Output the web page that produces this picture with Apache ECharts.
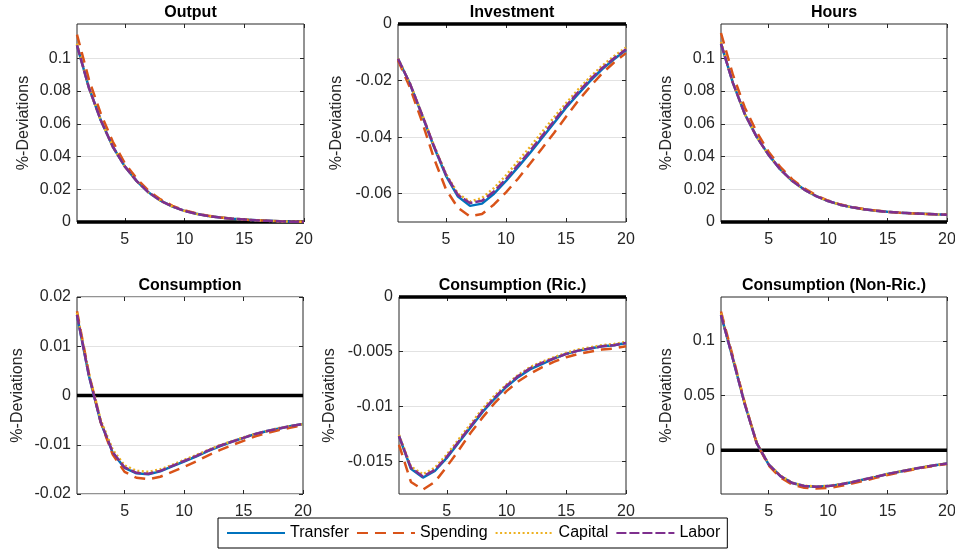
<!DOCTYPE html>
<html><head><meta charset="utf-8">
<script src="https://cdn.jsdelivr.net/npm/echarts@6/dist/echarts.min.js"></script>
<style>html,body{margin:0;padding:0;background:#fff}#c{width:955px;height:554px}</style>
</head><body><div id="c"></div>
<script>
const periods = [1,2,3,4,5,6,7,8,9,10,11,12,13,14,15,16,17,18,19,20];
const seriesNames = ['Transfer','Spending','Capital','Labor'];
const panelTitles = ['Output','Investment','Hours','Consumption','Consumption (Ric.)','Consumption (Non-Ric.)'];
const yAxisName = '%-Deviations';
const xTickValues = [5,10,15,20];
const outputTicks = [0,0.02,0.04,0.06,0.08,0.1];
const investmentTicks = [-0.06,-0.04,-0.02,0];
const hoursTicks = [0,0.02,0.04,0.06,0.08,0.1];
const consumptionTicks = [-0.02,-0.01,0,0.01,0.02];
const ricTicks = [-0.015,-0.01,-0.005,0];
const nonRicTicks = [0,0.05,0.1];
const zeroLevel = 0;

const outputTransfer = [0.108,0.082,0.062,0.046,0.034,0.025,0.018,0.013,0.0094,0.0068,0.0050,0.0036,0.0027,0.0020,0.0015,0.0010,0.0007,0.0004,0.0002,0.0001];
const outputSpending = [0.1145,0.087,0.066,0.049,0.036,0.0265,0.019,0.0138,0.0099,0.0071,0.0052,0.0038,0.0028,0.0021,0.0015,0.0010,0.0007,0.0004,0.0002,0.0001];
const outputCapital  = [0.109,0.082,0.062,0.046,0.034,0.025,0.018,0.013,0.0094,0.0068,0.0050,0.0036,0.0027,0.0020,0.0015,0.0010,0.0007,0.0004,0.0002,0.0001];
const outputLabor    = [0.108,0.082,0.062,0.046,0.034,0.025,0.018,0.013,0.0094,0.0068,0.0050,0.0036,0.0027,0.0020,0.0015,0.0010,0.0007,0.0004,0.0002,0.0001];

const investmentTransfer = [-0.0123,-0.0212,-0.0322,-0.0435,-0.0537,-0.0610,-0.0643,-0.0635,-0.0600,-0.0555,-0.0506,-0.0456,-0.0403,-0.0350,-0.0296,-0.0248,-0.0202,-0.0160,-0.0125,-0.0092];
const investmentSpending = [-0.0128,-0.0225,-0.0345,-0.0475,-0.0585,-0.0650,-0.0680,-0.0672,-0.0638,-0.0595,-0.0547,-0.0494,-0.0440,-0.0385,-0.0328,-0.0272,-0.0222,-0.0175,-0.0136,-0.0103];
const investmentCapital  = [-0.0122,-0.0210,-0.0318,-0.0430,-0.0530,-0.0600,-0.0628,-0.0615,-0.0580,-0.0535,-0.0485,-0.0435,-0.0382,-0.0330,-0.0280,-0.0232,-0.0188,-0.0148,-0.0114,-0.0083];
const investmentLabor    = [-0.0123,-0.0211,-0.0320,-0.0432,-0.0533,-0.0605,-0.0633,-0.0625,-0.0592,-0.0548,-0.0499,-0.0449,-0.0396,-0.0343,-0.0290,-0.0242,-0.0197,-0.0156,-0.0121,-0.0089];

const hoursTransfer = [0.109,0.085,0.066,0.052,0.041,0.032,0.025,0.0198,0.0158,0.0128,0.0106,0.0090,0.0078,0.0069,0.0062,0.0057,0.0053,0.0050,0.0047,0.0045];
const hoursSpending = [0.1155,0.090,0.070,0.055,0.043,0.0335,0.026,0.0205,0.0163,0.0131,0.0108,0.0091,0.0079,0.0070,0.0063,0.0057,0.0053,0.0050,0.0047,0.0045];
const hoursCapital  = [0.110,0.085,0.066,0.052,0.041,0.032,0.025,0.0198,0.0158,0.0128,0.0106,0.0090,0.0078,0.0069,0.0062,0.0057,0.0053,0.0050,0.0047,0.0045];
const hoursLabor    = [0.109,0.085,0.066,0.052,0.041,0.032,0.025,0.0198,0.0158,0.0128,0.0106,0.0090,0.0078,0.0069,0.0062,0.0057,0.0053,0.0050,0.0047,0.0045];

const consumptionTransfer = [0.0163,0.0040,-0.0055,-0.0116,-0.0147,-0.0158,-0.0160,-0.0154,-0.0144,-0.0134,-0.0124,-0.0113,-0.0103,-0.0094,-0.0086,-0.0078,-0.0072,-0.0067,-0.0062,-0.0058];
const consumptionSpending = [0.0171,0.0045,-0.0055,-0.0120,-0.0155,-0.0167,-0.0170,-0.0165,-0.0155,-0.0145,-0.0134,-0.0122,-0.0111,-0.0101,-0.0092,-0.0083,-0.0076,-0.0070,-0.0065,-0.0060];
const consumptionCapital  = [0.0168,0.0045,-0.0050,-0.0110,-0.0142,-0.0153,-0.0155,-0.0150,-0.0141,-0.0131,-0.0121,-0.0111,-0.0101,-0.0093,-0.0085,-0.0078,-0.0072,-0.0066,-0.0062,-0.0058];
const consumptionLabor    = [0.0164,0.0041,-0.0054,-0.0115,-0.0146,-0.0157,-0.0159,-0.0153,-0.0143,-0.0133,-0.0123,-0.0112,-0.0102,-0.0094,-0.0086,-0.0078,-0.0072,-0.0067,-0.0062,-0.0058];

const ricTransfer = [-0.0127,-0.0157,-0.0165,-0.0159,-0.0147,-0.0133,-0.0119,-0.0105,-0.0093,-0.0082,-0.0073,-0.0066,-0.0061,-0.0056,-0.0052,-0.0049,-0.0047,-0.0045,-0.0044,-0.0042];
const ricSpending = [-0.0135,-0.0169,-0.0176,-0.0169,-0.0155,-0.0140,-0.0124,-0.0110,-0.0097,-0.0086,-0.0077,-0.0070,-0.0064,-0.0059,-0.0055,-0.0052,-0.0050,-0.0048,-0.0047,-0.0045];
const ricCapital  = [-0.0126,-0.0155,-0.0162,-0.0156,-0.0144,-0.0130,-0.0116,-0.0102,-0.0090,-0.0080,-0.0071,-0.0064,-0.0059,-0.0055,-0.0051,-0.0048,-0.0046,-0.0044,-0.0043,-0.0041];
const ricLabor    = [-0.0127,-0.0156,-0.0164,-0.0158,-0.0146,-0.0132,-0.0118,-0.0104,-0.0092,-0.0081,-0.0072,-0.0065,-0.0060,-0.0056,-0.0052,-0.0049,-0.0047,-0.0045,-0.0044,-0.0042];

const nonRicTransfer = [0.1237,0.0835,0.0420,0.0065,-0.0130,-0.0237,-0.0300,-0.0327,-0.0333,-0.0328,-0.0313,-0.0292,-0.0268,-0.0244,-0.0218,-0.0196,-0.0175,-0.0155,-0.0138,-0.0122];
const nonRicSpending = [0.1267,0.0855,0.0430,0.0065,-0.0140,-0.0250,-0.0315,-0.0343,-0.0350,-0.0345,-0.0328,-0.0305,-0.0280,-0.0253,-0.0226,-0.0202,-0.0180,-0.0159,-0.0141,-0.0125];
const nonRicCapital  = [0.1250,0.0845,0.0430,0.0070,-0.0125,-0.0233,-0.0297,-0.0325,-0.0331,-0.0326,-0.0311,-0.0290,-0.0266,-0.0242,-0.0217,-0.0195,-0.0174,-0.0154,-0.0137,-0.0121];
const nonRicLabor    = [0.1237,0.0835,0.0420,0.0065,-0.0130,-0.0237,-0.0300,-0.0327,-0.0333,-0.0328,-0.0313,-0.0292,-0.0268,-0.0244,-0.0218,-0.0196,-0.0175,-0.0155,-0.0138,-0.0122];

const FONT = '"Liberation Sans", Arial, Helvetica, sans-serif';
const AX = '#262626';
const colors = ['#0072BD','#D95319','#EDB120','#7E2F8E'];
const dashes = ['solid',[11,7],[2,2.5],[10,3]];

const panels = [
  {data:[outputTransfer,outputSpending,outputCapital,outputLabor], yMin:0, yMax:0.121, ticks:outputTicks, nameGap:45},
  {data:[investmentTransfer,investmentSpending,investmentCapital,investmentLabor], yMin:-0.07, yMax:0, ticks:investmentTicks, nameGap:53},
  {data:[hoursTransfer,hoursSpending,hoursCapital,hoursLabor], yMin:0, yMax:0.121, ticks:hoursTicks, nameGap:46},
  {data:[consumptionTransfer,consumptionSpending,consumptionCapital,consumptionLabor], yMin:-0.02, yMax:0.02, ticks:consumptionTicks, nameGap:51},
  {data:[ricTransfer,ricSpending,ricCapital,ricLabor], yMin:-0.018, yMax:0, ticks:ricTicks, nameGap:61},
  {data:[nonRicTransfer,nonRicSpending,nonRicCapital,nonRicLabor], yMin:-0.04, yMax:0.14, ticks:nonRicTicks, nameGap:46}
];
const rects = [[77,24,227,198],[398,24,228,198],[721,24,226,198],[77,297,226,197],[399,297,227,197],[721,297,226,197]];

const grids=[], xAxes=[], yAxes=[], series=[], graphics=[];
panels.forEach((p,i)=>{
  const r = rects[i];
  grids.push({left:r[0], top:r[1], width:r[2], height:r[3], show:true, borderColor:AX, borderWidth:1, backgroundColor:'#fff', containLabel:false, outerBoundsMode:'none'});
  const tick = {show:true, inside:true, length:4, lineStyle:{color:AX, width:1}};
  xAxes.push({gridIndex:i, type:'value', min:1, max:20,
    axisLine:{show:false,onZero:false}, axisTick:Object.assign({customValues:xTickValues}, tick),
    axisLabel:{customValues:xTickValues, fontFamily:FONT, fontSize:16, color:AX, margin:10},
    splitLine:{show:false}});
  xAxes.push({gridIndex:i, type:'value', position:'top', min:1, max:20,
    axisLine:{show:false,onZero:false}, axisTick:Object.assign({customValues:xTickValues}, tick),
    axisLabel:{show:false}, splitLine:{show:false}});
  yAxes.push({gridIndex:i, type:'value', min:p.yMin, max:p.yMax,
    axisLine:{show:false,onZero:false}, axisTick:Object.assign({customValues:p.ticks}, tick),
    axisLabel:{customValues:p.ticks, fontFamily:FONT, fontSize:16, color:AX, margin:6},
    splitLine:{show:true, lineStyle:{color:'#e2e2e2', width:1}},
    name:yAxisName, nameLocation:'middle', nameGap:p.nameGap,
    nameTextStyle:{fontFamily:FONT, fontSize:16, color:AX}});
  yAxes.push({gridIndex:i, type:'value', position:'right', min:p.yMin, max:p.yMax,
    axisLine:{show:false,onZero:false}, axisTick:Object.assign({customValues:p.ticks}, tick),
    axisLabel:{show:false}, splitLine:{show:false}});
  series.push({name:'zero', type:'line', xAxisIndex:2*i, yAxisIndex:2*i, data:periods.map(t=>[t,zeroLevel]),
    symbol:'none', silent:true, clip:false, z:1, lineStyle:{color:'#000', width:3.5}, itemStyle:{color:'#000'}});
  p.data.forEach((arr,j)=>{
    series.push({name:seriesNames[j], type:'line', xAxisIndex:2*i, yAxisIndex:2*i,
      data:periods.map((t,k)=>[t,arr[k]]), symbol:'none', z:2+j,
      lineStyle:{color:colors[j], width:2.5, type:dashes[j]}, itemStyle:{color:colors[j]}});
  });
  graphics.push({type:'text', x:r[0]+r[2]/2, y:r[1]-11,
    style:{text:panelTitles[i], font:'bold 16px '+FONT, fill:'#000', align:'center', verticalAlign:'middle'}});
});

const chart = echarts.init(document.getElementById('c'), null, {renderer:'canvas'});
chart.setOption({
  animation:false,
  backgroundColor:'#fff',
  grid:grids, xAxis:xAxes, yAxis:yAxes, series:series, graphic:graphics,
  legend:{data:seriesNames, left:218, top:518, orient:'horizontal', itemWidth:58, itemHeight:16, itemGap:7,
    padding:[7,7,7,8], borderColor:'#000', borderWidth:1, backgroundColor:'#fff', selectedMode:false,
    itemStyle:{opacity:0},
    textStyle:{fontFamily:FONT, fontSize:16, color:'#000'}}
});
</script></body></html>
